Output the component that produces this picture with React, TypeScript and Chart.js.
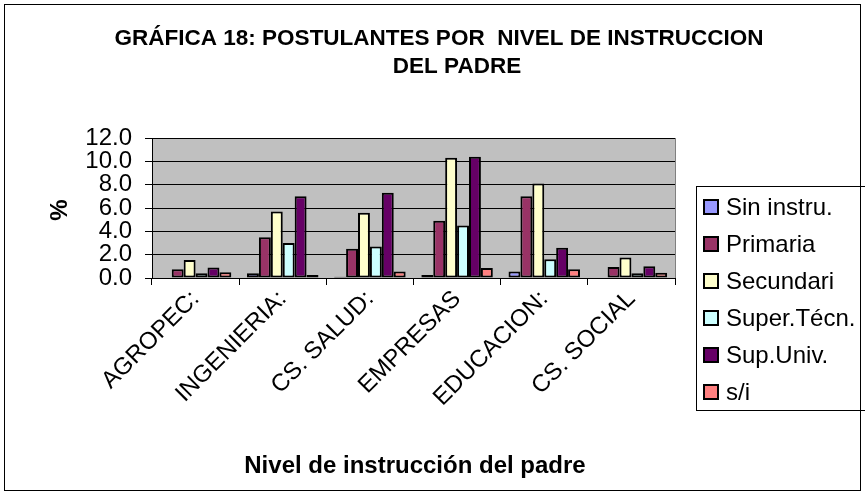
import React, { useEffect, useRef } from "react";
import { Chart, registerables } from "chart.js";

Chart.register(...registerables);

const categories = ["AGROPEC:", "INGENIERIA:", "CS. SALUD:", "EMPRESAS", "EDUCACION:", "CS. SOCIAL"];
const seriesNames = ["Sin instru.", "Primaria", "Secundari", "Super.Técn.", "Sup.Univ.", "s/i"];
const sinInstru = [0, 0.4, 0.1, 0.25, 0.55, 0];
const primaria = [0.75, 3.5, 2.5, 4.9, 7.0, 0.95];
const secundaria = [1.55, 5.7, 5.6, 10.3, 8.1, 1.75];
const superTecn = [0.4, 3.0, 2.7, 4.5, 1.6, 0.4];
const supUniv = [0.9, 7.0, 7.3, 10.4, 2.6, 1.0];
const sinInfo = [0.5, 0.25, 0.55, 0.85, 0.75, 0.45];
const seriesColors = ["#9999FF", "#993366", "#FFFFCC", "#CCFFFF", "#660066", "#FF8080"];
const titleLines = ["GRÁFICA 18: POSTULANTES POR  NIVEL DE INSTRUCCION", "DEL PADRE"];
const xTitle = "Nivel de instrucción del padre";
const yTitle = "%";

const FONT = "'Liberation Sans', Arial, sans-serif";

export default function App() {
  const ref = useRef<HTMLCanvasElement | null>(null);
  useEffect(() => {
    if (!ref.current) return;
    const values = [sinInstru, primaria, secundaria, superTecn, supUniv, sinInfo];
    const decor = {
      id: "decor",
      beforeDraw(chart: any) {
        const { ctx, chartArea: a } = chart;
        ctx.save();
        ctx.fillStyle = "#ffffff";
        ctx.fillRect(0, 0, chart.width, chart.height);
        ctx.fillStyle = "#C0C0C0";
        ctx.fillRect(a.left, a.top, a.right - a.left, a.bottom - a.top);
        ctx.strokeStyle = "#808080";
        ctx.lineWidth = 1;
        ctx.strokeRect(a.left + 0.5, a.top + 0.5, a.right - a.left, a.bottom - a.top);
        ctx.restore();
      },
      afterDraw(chart: any) {
        const { ctx } = chart;
        ctx.save();
        ctx.strokeStyle = "#000";
        ctx.lineWidth = 1;
        ctx.strokeRect(4.5, 4.5, 856, 486);
        ctx.fillStyle = "#000";
        ctx.textAlign = "center";
        ctx.textBaseline = "middle";
        ctx.font = `bold 22.5px ${FONT}`;
        ctx.fillText(titleLines[0], 439, 39);
        ctx.fillText(titleLines[1], 457, 67);
        ctx.font = `bold 24px ${FONT}`;
        ctx.fillText(xTitle, 415, 466);
        ctx.save();
        ctx.translate(60, 210);
        ctx.rotate(-Math.PI / 2);
        ctx.fillText(yTitle, 0, 0);
        ctx.restore();
        // legend
        ctx.strokeRect(696.5, 186.5, 170, 224);
        ctx.font = `24px ${FONT}`;
        ctx.textAlign = "left";
        seriesNames.forEach((name, i) => {
          const cy = 207 + i * 37;
          ctx.fillStyle = seriesColors[i];
          ctx.fillRect(704, cy - 7, 14, 14);
          ctx.lineWidth = 2;
          ctx.strokeStyle = "#000";
          ctx.strokeRect(704, cy - 7, 14, 14);
          ctx.fillStyle = "#000";
          ctx.fillText(name, 726, cy + 1);
        });
        ctx.restore();
      },
    };
    const chart = new Chart(ref.current, {
      type: "bar",
      data: {
        labels: categories,
        datasets: seriesNames.map((name, i) => ({
          label: name,
          data: values[i],
          backgroundColor: seriesColors[i],
          borderColor: "#000",
          borderWidth: 2,
          borderSkipped: false,
          categoryPercentage: 0.82,
          barPercentage: 1,
        })),
      },
      options: {
        animation: false,
        responsive: false,
        maintainAspectRatio: false,
        events: [],
        layout: { padding: { left: 0, top: 138, right: 190, bottom: 57 } },
        plugins: { legend: { display: false }, title: { display: false }, tooltip: { enabled: false } },
        scales: {
          x: {
            type: "category",
            offset: true,
            grid: { display: true, offset: true, drawOnChartArea: false, drawTicks: true, tickLength: 7, color: "#000" },
            border: { display: true, color: "#000", width: 1 },
            ticks: {
              autoSkip: false,
              maxRotation: 45,
              minRotation: 45,
              padding: 0,
              color: "#000",
              font: { family: FONT, size: 24 },
            },
            afterFit(scale: any) {
              scale.height = 160;
            },
          },
          y: {
            min: 0,
            max: 12,
            grid: { color: "#000", lineWidth: 1, tickLength: 7, drawTicks: true },
            border: { display: true, color: "#000", width: 1 },
            ticks: {
              stepSize: 2,
              autoSkip: false,
              padding: 13,
              color: "#000",
              font: { family: FONT, size: 24 },
              callback: (v: any) => Number(v).toFixed(1),
            },
            afterFit(scale: any) {
              scale.width = 152;
            },
          },
        },
      },
      plugins: [decor],
    } as any);
    return () => chart.destroy();
  }, []);
  return (
    <div style={{ position: "absolute", left: 0, top: 0, width: 865, height: 495 }}>
      <canvas ref={ref} width={865} height={495} style={{ width: 865, height: 495, display: "block" }} />
    </div>
  );
}
